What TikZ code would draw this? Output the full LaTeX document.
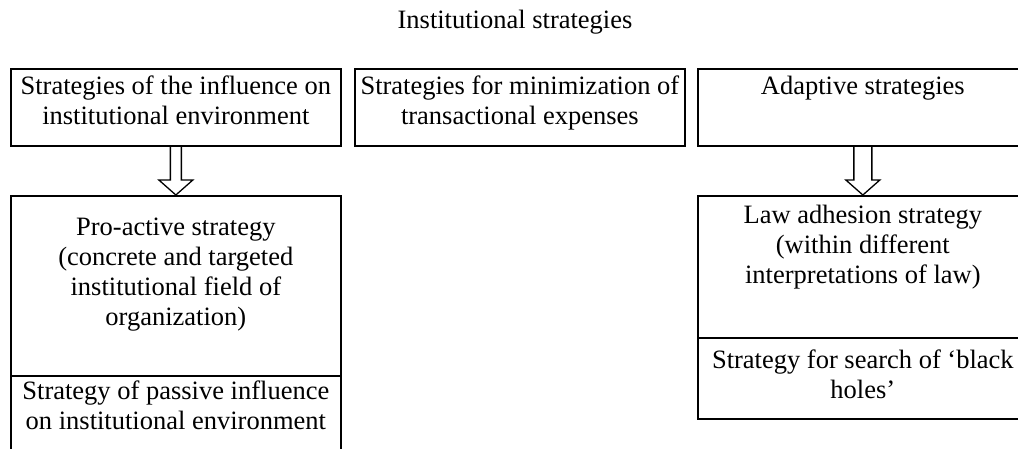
\documentclass[tikz,border=0pt]{standalone}
\usepackage{fontspec}
\setmainfont{Liberation Serif}
\usetikzlibrary{calc}
\newcommand{\hollowarrow}[3]{%
  \draw[arrowline] let \p1=(#1.south), \p2=(#2.north) in
    (\x1-#3,\y1) -- (\x1-#3,\y2+15pt) -- (\x1-17pt,\y2+15pt) -- (\x2,\y2)
    -- (\x1+17pt,\y2+15pt) -- (\x1+#3,\y2+15pt) -- (\x1+#3,\y1);}

\begin{document}
\begin{tikzpicture}[x=1pt,y=-1pt,
    every node/.style={font=\fontsize{26.5}{30}\selectfont},
    sbox/.style={draw,line width=1.7pt,anchor=north west,inner sep=0pt,
                 text width=330pt,align=flush center},
    arrowline/.style={line width=1.3pt,line join=miter}]
  \useasboundingbox (0,0) rectangle (1018,449);

  \node[anchor=base] (title) at (515,29) {Institutional strategies};

  % top row
  \node[sbox,text height=25.5pt,text depth=51.5pt] (infl) at (10,68)
       {Strategies of the influence on\\institutional environment};
  \node[sbox,text height=25.5pt,text depth=51.5pt] (trans) at (354,68)
       {Strategies for minimization of\\transactional expenses};
  \node[sbox,text height=25.5pt,text depth=51.5pt] (adapt) at (697,68)
       {Adaptive strategies};

  % left column
  \node[sbox,text height=40pt,text depth=140pt] (proact) at (10,195)
       {Pro-active strategy\\(concrete and targeted\\institutional field of\\organization)};
  \node[sbox,text height=24pt,text depth=76pt] (passive) at (10,375)
       {Strategy of passive influence\\on institutional environment};

  % right column
  \node[sbox,text height=28pt,text depth=114pt] (lawad) at (697,195)
       {Law adhesion strategy\\(within different\\interpretations of law)};
  \node[sbox,text height=31pt,text depth=50pt] (blackh) at (697,337)
       {Strategy for search of `black\\holes'};

  \hollowarrow{infl}{proact}{5.5pt}
  \hollowarrow{adapt}{lawad}{9pt}
\end{tikzpicture}
\end{document}
